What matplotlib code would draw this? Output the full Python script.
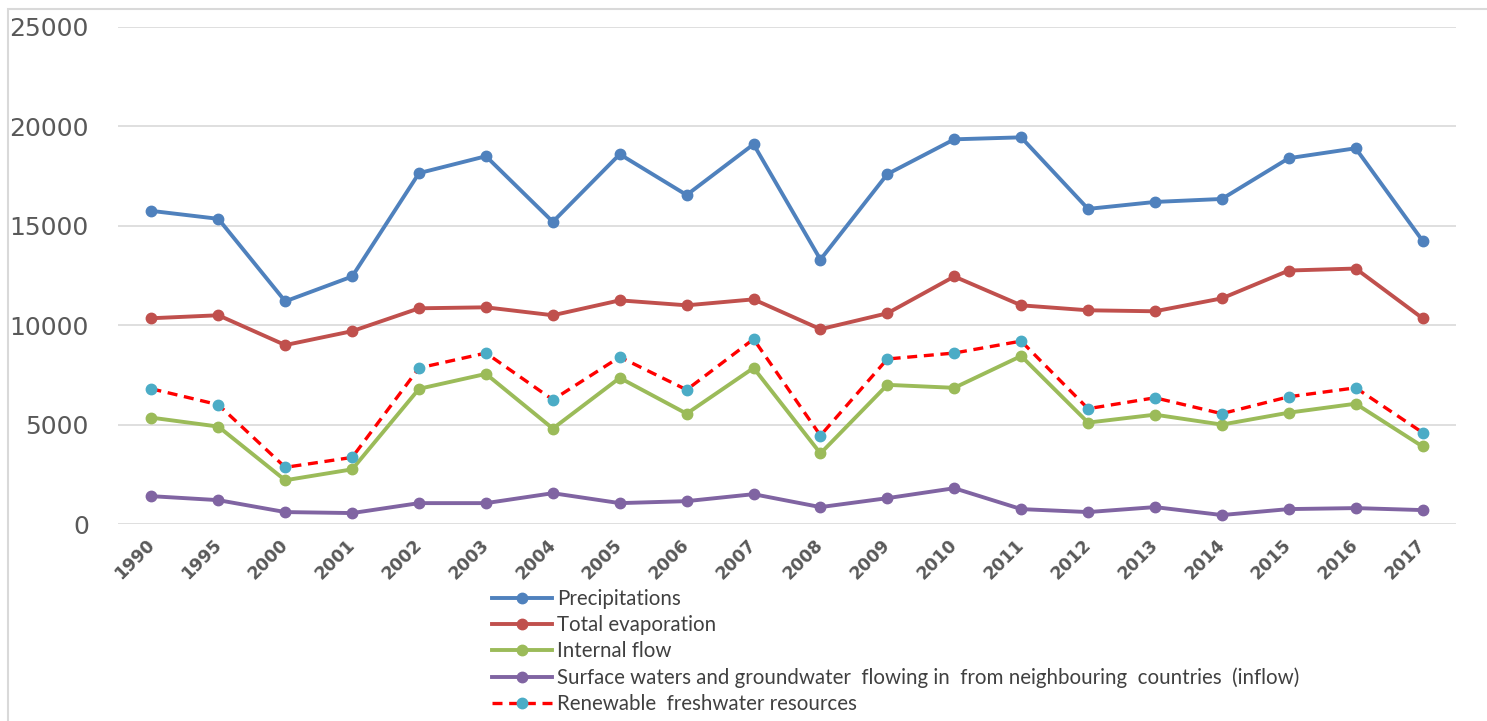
import matplotlib
matplotlib.use("Agg")
import matplotlib.pyplot as plt
from matplotlib.patches import Rectangle

# Data
years = ["1990", "1995", "2000", "2001", "2002", "2003", "2004", "2005", "2006", "2007",
         "2008", "2009", "2010", "2011", "2012", "2013", "2014", "2015", "2016", "2017"]
precipitations = [15750, 15350, 11200, 12450, 17650, 18500, 15200, 18600, 16550, 19100,
                  13300, 17600, 19350, 19450, 15850, 16200, 16350, 18400, 18900, 14250]
evaporation = [10350, 10500, 9000, 9700, 10850, 10900, 10500, 11250, 11000, 11300,
               9800, 10600, 12450, 11000, 10750, 10700, 11350, 12750, 12850, 10350]
internal_flow = [5350, 4900, 2200, 2750, 6800, 7550, 4800, 7350, 5550, 7850,
                 3550, 7000, 6850, 8450, 5100, 5500, 5000, 5600, 6050, 3900]
inflow = [1400, 1200, 600, 550, 1050, 1050, 1550, 1050, 1150, 1500,
          850, 1300, 1800, 750, 600, 850, 450, 750, 800, 700]
renewable = [6800, 6000, 2850, 3350, 7850, 8600, 6250, 8400, 6750, 9300,
             4450, 8300, 8600, 9200, 5800, 6350, 5550, 6400, 6850, 4600]

labels = ["Precipitations",
          "Total evaporation",
          "Internal flow",
          "Surface waters and groundwater  flowing in  from neighbouring  countries  (inflow)",
          "Renewable  freshwater resources"]

W, H = 1487, 721
fig = plt.figure(figsize=(W / 100, H / 100), dpi=100)
ax = fig.add_axes([118 / W, 1 - 524 / H, (1456 - 118) / W, (524 - 27) / H])

x = range(len(years))
lw, ms = 2.8, 7.5
ax.plot(x, precipitations, color="#4F81BD", lw=lw, marker="o", ms=ms, label=labels[0])
ax.plot(x, evaporation, color="#C0504D", lw=lw, marker="o", ms=ms, label=labels[1])
ax.plot(x, internal_flow, color="#9BBB59", lw=lw, marker="o", ms=ms, label=labels[2])
ax.plot(x, inflow, color="#8064A2", lw=lw, marker="o", ms=ms, label=labels[3])
ax.plot(x, renewable, color="#FF0000", lw=2.4, ls=(0, (3, 2)), marker="o", ms=ms,
        markerfacecolor="#4BACC6", markeredgecolor="#4BACC6", label=labels[4])

ax.set_xlim(-0.5, len(years) - 0.5)
ax.set_ylim(0, 25000)
ax.set_yticks(range(0, 25001, 5000))
ax.set_xticks(list(x))
ax.set_xticklabels(years, rotation=45, ha="right", va="center", rotation_mode="anchor",
                   fontsize=12.5, fontweight="bold", color="#595959")
ax.tick_params(axis="y", length=0, pad=21, labelsize=18, labelcolor="#595959")
ax.tick_params(axis="x", length=0, pad=13)
ax.grid(axis="y", color="#D9D9D9", lw=1.2)
ax.set_axisbelow(True)
for s in ax.spines.values():
    s.set_visible(False)

# outer chart frame
fig.add_artist(Rectangle((8 / W, -0.05), 1.2, 1 - 9 / H + 0.05, transform=fig.transFigure,
                         fill=False, edgecolor="#D9D9D9", lw=1.5))

fig.legend(loc="upper left", bbox_to_anchor=(492 / W, 1 - 589 / H), frameon=False,
           handlelength=2.9, handletextpad=0.25, labelspacing=0.3,
           borderaxespad=0, borderpad=0, labelcolor="#404040",
           prop={"family": ["Lato", "DejaVu Sans"], "size": 14.8})

fig.savefig("out.png", dpi=100)
